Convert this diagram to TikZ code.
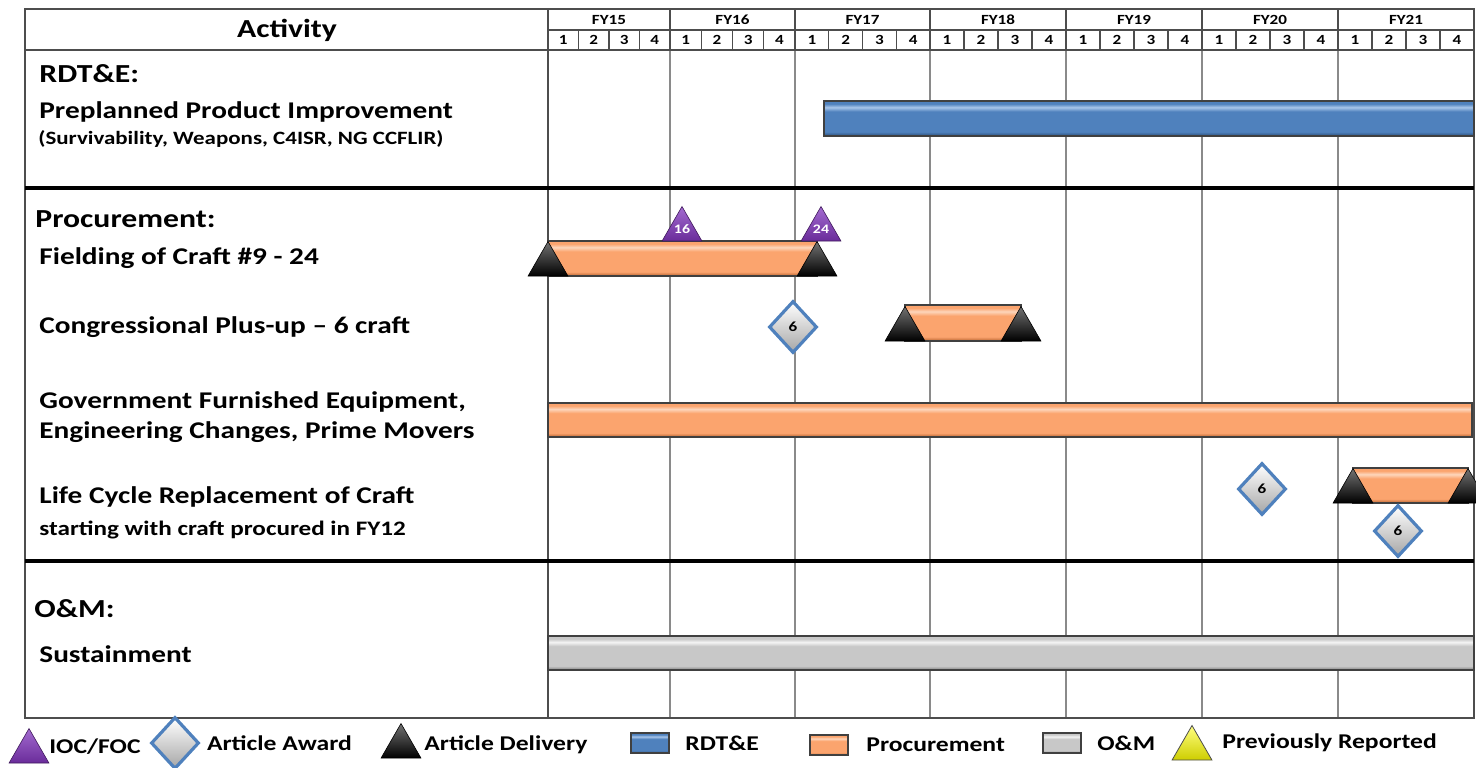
\documentclass[tikz,border=0pt]{standalone}
\usepackage{fontspec}
\setmainfont{Carlito}[FakeStretch=1.22]
\usetikzlibrary{
arrows.meta,
positioning,
shapes.geometric,
fit
}
\definecolor{GanttBlue}{HTML}{4F81BD}
\definecolor{GanttBlueLt}{HTML}{A9C6EA}
\definecolor{GanttBlueDk}{HTML}{2A4F7A}
\definecolor{GanttOrange}{HTML}{FBA46E}
\definecolor{GanttOrangeLt}{HTML}{FDD6BC}
\definecolor{GanttOrangeDk}{HTML}{B8622F}
\definecolor{GanttGray}{HTML}{C8C8C8}
\definecolor{GanttGrayLt}{HTML}{F4F4F4}
\definecolor{GanttGrayDk}{HTML}{7E7E7E}
\definecolor{GanttPurple}{HTML}{6A2C9A}
\definecolor{GanttPurpleLt}{HTML}{A36BD0}
\definecolor{GanttYellow}{HTML}{F2F200}
\definecolor{GanttRule}{HTML}{4D4D4D}
\definecolor{GanttGrid}{HTML}{8A8A8A}
% bevelled bar fills (the path maps onto 25bp..75bp)
\pgfdeclareverticalshading{rdteshade}{100bp}{color(0bp)=(GanttBlueDk); color(25bp)=(GanttBlueDk);
  color(31bp)=(GanttBlue); color(60bp)=(GanttBlue); color(66bp)=(GanttBlueLt);
  color(71bp)=(GanttBlue); color(100bp)=(GanttBlue)}
\pgfdeclareverticalshading{procshade}{100bp}{color(0bp)=(GanttOrangeDk); color(25bp)=(GanttOrangeDk);
  color(31bp)=(GanttOrange); color(60bp)=(GanttOrange); color(66bp)=(GanttOrangeLt);
  color(71bp)=(GanttOrange); color(100bp)=(GanttOrange)}
\pgfdeclareverticalshading{omshade}{100bp}{color(0bp)=(GanttGrayDk); color(25bp)=(GanttGrayDk);
  color(31bp)=(GanttGray); color(60bp)=(GanttGray); color(66bp)=(GanttGrayLt);
  color(71bp)=(GanttGray); color(100bp)=(GanttGray)}
\tikzset{
frameline/.style={draw=GanttRule, line width=0.7pt},
sectionline/.style={draw=black, line width=1.6pt},
gridline/.style={draw=GanttGrid, line width=0.9pt},
headfy/.style={font=\bfseries\fontsize{7}{8}\selectfont, inner sep=0pt},
headq/.style={font=\bfseries\fontsize{7}{8}\selectfont, inner sep=0pt},
sectlabel/.style={font=\bfseries\fontsize{13}{15}\selectfont, anchor=base west, inner sep=0pt},
itemlabel/.style={font=\bfseries\fontsize{12}{14}\selectfont, anchor=base west, inner sep=0pt},
sublabel/.style={font=\bfseries\fontsize{9.4}{11}\selectfont, anchor=base west, inner sep=0pt},
legendlabel/.style={font=\bfseries\fontsize{10.5}{12}\selectfont, inner sep=0pt, anchor=west},
barbase/.style={rectangle, inner sep=0pt, outer sep=0pt, draw=black!75, line width=0.6pt},
rdtebar/.style={barbase, shading=rdteshade},
procbar/.style={barbase, shading=procshade},
ombar/.style={barbase, shading=omshade},
trimark/.style={regular polygon, regular polygon sides=3, minimum size=23pt,
  inner sep=0pt, outer sep=0pt, anchor=south},
delivmark/.style={trimark, draw=black, line width=0.3pt, top color=black!55, bottom color=black},
iocmark/.style={trimark, draw=GanttPurple!60!black, line width=0.3pt, top color=GanttPurpleLt,
  bottom color=GanttPurple, text=white, font=\bfseries\fontsize{6.5}{7}\selectfont},
prevmark/.style={trimark, draw=black!70, line width=0.4pt, top color=yellow!50!white,
  bottom color=GanttYellow!85!black},
awardmark/.style={diamond, minimum width=24pt, minimum height=26pt, inner sep=0pt,
  draw=GanttBlue, line width=1.6pt, top color=white, bottom color=black!35,
  font=\bfseries\fontsize{7}{8}\selectfont},
legendbox/.style={rectangle, minimum width=19pt, minimum height=10pt, inner sep=0pt,
  line width=0.6pt}
}

\begin{document}
\begin{tikzpicture}[x=0.5pt, y=-0.5pt]
\useasboundingbox (0,0) rectangle (1476,767);

% time axis and grid
\foreach \a/\b/\fy in {548/670/15, 670/795/16, 795/930/17, 930/1066/18,
                       1066/1202/19, 1202/1338/20, 1338/1474/21}{
  \draw[gridline] (\a,50) -- (\a,718);
  \draw[frameline] (\a,9) -- (\a,50);
  \node[headfy] (fy\fy) at ({(\a+\b)/2},19.5) {FY\fy};
  \foreach \q in {1,...,4}
    \node[headq] (q\fy\q) at ({\a+(\q-0.5)*(\b-\a)/4},40) {\q};
  \foreach \q in {1,2,3}
    \draw[frameline] ({\a+\q*(\b-\a)/4},30) -- ({\a+\q*(\b-\a)/4},50);
}
\draw[frameline] (25,9) rectangle (1474,718);
\draw[frameline] (25,50) -- (1474,50);
\draw[frameline] (548,30) -- (1474,30);
\draw[frameline] (548,9) -- (548,718);
\draw[sectionline] (25,188) -- (1474,188);
\draw[sectionline] (25,561) -- (1474,561);

% activity column
\node[font=\bfseries\fontsize{13}{15}\selectfont, inner sep=0pt, anchor=base] (act) at (287,37) {Activity};
\node[sectlabel] (rdte) at (39,82) {RDT\&E:};
\node[itemlabel] (ppi) at (39,118) {Preplanned Product Improvement};
\node[sublabel] (ppisub) at (38,144) {(Survivability, Weapons, C4ISR, NG CCFLIR)};
\node[sectlabel] (proc) at (35,227) {Procurement:};
\node[itemlabel] (fld) at (39,264) {Fielding of Craft \#9 - 24};
\node[itemlabel] (cpu) at (39,333) {Congressional Plus-up – 6 craft};
\node[itemlabel] (gfe) at (39,408) {Government Furnished Equipment,};
\node[itemlabel] (ecpm) at (39,438) {Engineering Changes, Prime Movers};
\node[itemlabel] (lcr) at (39,503) {Life Cycle Replacement of Craft};
\node[sublabel, font=\bfseries\fontsize{10.3}{12}\selectfont] (lcrsub) at (39,535) {starting with craft procured in FY12};
\node[sectlabel] (om) at (34,617) {O\&M:};
\node[itemlabel] (sus) at (39,662) {Sustainment};

% bars
\node[rdtebar, fit={(824,101) (1474,136)}] (ppibar) {};
\node[procbar, fit={(548,241) (817,276)}] (fldbar) {};
\node[procbar, fit={(905,305) (1021,341)}] (cpubar) {};
\node[procbar, fit={(548,403) (1472,437)}] (gfebar) {};
\node[procbar, fit={(1353,468) (1468,503)}] (lcrbar) {};
\node[ombar, fit={(548,636) (1474,670)}] (susbar) {};

% milestones
\node[delivmark] (fldin) at (fldbar.south west) {};
\node[delivmark] (fldout) at (fldbar.south east) {};
\node[iocmark] (ioc16) at (682,241) {16};
\node[iocmark] (ioc24) at (821,241) {24};
\node[awardmark] (cpuaward) at (793,327) {6};
\node[delivmark] (cpuin) at (cpubar.south west) {};
\node[delivmark] (cpuout) at (cpubar.south east) {};
\node[awardmark] (lcraward) at (1262,489) {6};
\node[delivmark] (lcrin) at (lcrbar.south west) {};
\node[delivmark] (lcrout) at (lcrbar.south east) {};
\node[awardmark] (lcraward2) at (1398,531) {6};

% legend
\node[iocmark] (lgioc) at (29,763) {};
\node[legendlabel] (lgioctxt) at (49,747) {IOC/FOC};
\node[awardmark] (lgaward) at (175,743) {};
\node[legendlabel, right=3pt of lgaward] (lgawardtxt) {Article Award};
\node[delivmark] (lgdeliv) at (401,758) {};
\node[legendlabel] (lgdelivtxt) at (424,745) {Article Delivery};
\node[legendbox, rdtebar] (lgrdte) at (650,743) {};
\node[legendlabel, right=8pt of lgrdte] (lgrdtetxt) {RDT\&E};
\node[legendbox, procbar] (lgproc) at (829,745) {};
\node[legendlabel, right=9pt of lgproc] (lgproctxt) {Procurement};
\node[legendbox, ombar] (lgom) at (1062,743) {};
\node[legendlabel, right=8pt of lgom] (lgomtxt) {O\&M};
\node[prevmark] (lgprev) at (1192,760) {};
\node[legendlabel] (lgprevtxt) at (1222,743) {Previously Reported};
\end{tikzpicture}
\end{document}
